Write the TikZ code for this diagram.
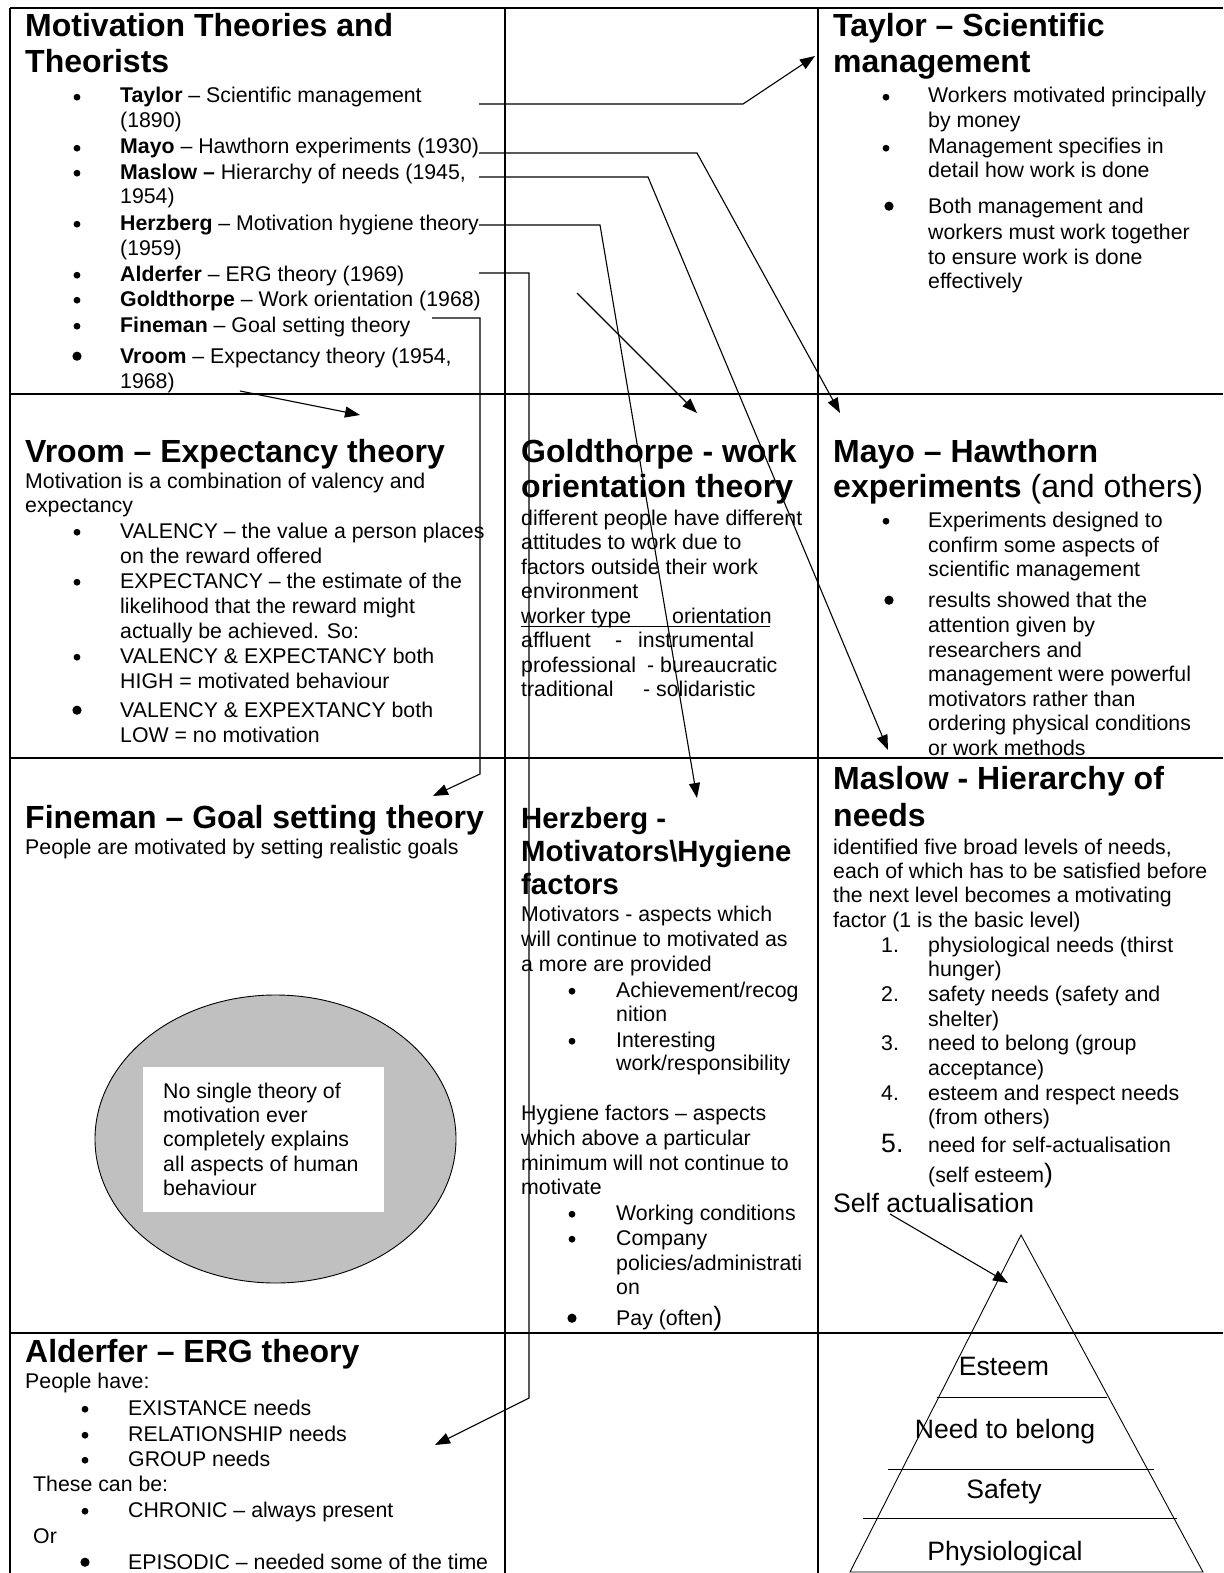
\documentclass[tikz,border=0pt]{standalone}
\usepackage{fontspec}
\setmainfont{Liberation Sans}
\usetikzlibrary{arrows.meta}
\newcommand\fb{\fontsize{21.3}{24.5}\selectfont}
\newcommand\fh{\fontsize{32}{36}\selectfont\bfseries}
\newcommand\fhs{\fontsize{29.3}{33}\selectfont\bfseries}
\newcommand\fl{\fontsize{26.6}{30}\selectfont}
\newcommand\Tx[5][]{\node[tx,#1] (#2) at (#3,#4) {#5};}
\newcommand\Bs[2]{\fill (#1,#2-5.8) circle (3.4pt);}
\newcommand\Bb[2]{\fill (#1,#2-6.8) circle (4.6pt);}
\tikzset{
  tx/.style={inner sep=0pt, anchor=base west, font=\fb},
  hd/.style={tx, font=\fh},
  hds/.style={tx, font=\fhs},
  lg/.style={tx, font=\fl},
  gridl/.style={line width=1.6pt},
  conn/.style={line width=1.1pt},
  arr/.style={conn, -{Triangle[length=15pt,width=11pt]}},
  thinl/.style={line width=0.9pt},
}
\begin{document}
\begin{tikzpicture}[x=1pt,y=-1pt]
\useasboundingbox (0,0) rectangle (1223,1573);
\fill[white] (0,0) rectangle (1223,1573);
% grid
\draw[gridl] (10,8) -- (1223,8);
\draw[gridl] (10,8) -- (10,1573);
\draw[gridl] (505,8) -- (505,1573);
\draw[gridl] (818,8) -- (818,1573);
\draw[gridl] (10,394) -- (1223,394);
\draw[gridl] (10,758) -- (1223,758);
\draw[gridl] (10,1333) -- (1223,1333);

% ---------- top-left list
\Tx[hd]{h1}{25}{37}{Motivation Theories and}
\Tx[hd]{h1b}{25}{73}{Theorists}
\Bs{77}{103}\Tx{l1}{120}{103}{\textbf{Taylor} – Scientific management}
\Tx{l1b}{120}{128}{(1890)}
\Bs{77}{154}\Tx{l2}{120}{154}{\textbf{Mayo} – Hawthorn experiments (1930)}
\Bs{77}{179}\Tx{l3}{120}{179}{\textbf{Maslow –} Hierarchy of needs (1945,}
\Tx{l3b}{120}{204}{1954)}
\Bs{77}{230}\Tx{l4}{120}{230}{\textbf{Herzberg} – Motivation hygiene theory}
\Tx{l4b}{120}{255}{(1959)}
\Bs{77}{281}\Tx{l5}{120}{281}{\textbf{Alderfer} – ERG theory (1969)}
\Bs{77}{306}\Tx{l6}{120}{306}{\textbf{Goldthorpe} – Work orientation (1968)}
\Bs{77}{332}\Tx{l7}{120}{332}{\textbf{Fineman} – Goal setting theory}
\Bb{77}{363}\Tx{l8}{120}{363}{\textbf{Vroom} – Expectancy theory (1954,}
\Tx{l8b}{120}{388}{1968)}

% ---------- Taylor box
\Tx[hd]{tay}{833}{37}{Taylor – Scientific}
\Tx[hd]{tayb}{833}{73}{management}
\Bs{886}{103}\Tx{ta1}{928}{103}{Workers motivated principally}
\Tx{ta1b}{928}{128}{by money}
\Bs{886}{154}\Tx{ta2}{928}{154}{Management specifies in}
\Tx{ta2b}{928}{178}{detail how work is done}
\Bb{889}{213}\Tx{ta3}{928}{213}{Both management and}
\Tx{ta3b}{928}{239}{workers must work together}
\Tx{ta3c}{928}{264}{to ensure work is done}
\Tx{ta3d}{928}{288}{effectively}

% ---------- Vroom box
\Tx[hd]{vro}{25}{462}{Vroom – Expectancy theory}
\Tx{vr0}{25}{488}{Motivation is a combination of valency and}
\Tx{vr0b}{25}{512}{expectancy}
\Bs{77}{538}\Tx{vr1}{120}{538}{VALENCY – the value a person places}
\Tx{vr1b}{120}{563}{on the reward offered}
\Bs{77}{588}\Tx{vr2}{120}{588}{EXPECTANCY – the estimate of the}
\Tx{vr2b}{120}{613}{likelihood that the reward might}
\Tx{vr2c}{120}{638}{actually be achieved. So:}
\Bs{77}{663}\Tx{vr3}{120}{663}{VALENCY \& EXPECTANCY both}
\Tx{vr3b}{120}{688}{HIGH = motivated behaviour}
\Bb{77}{717}\Tx{vr4}{120}{717}{VALENCY \& EXPEXTANCY both}
\Tx{vr4b}{120}{742}{LOW = no motivation}

% ---------- Goldthorpe box
\Tx[hd]{gol}{521}{462}{Goldthorpe - work}
\Tx[hd]{golb}{521}{497}{orientation theory}
\Tx{go1}{521}{525}{different people have different}
\Tx{go2}{521}{549.5}{attitudes to work due to}
\Tx{go3}{521}{574}{factors outside their work}
\Tx{go4}{521}{598.5}{environment}
\Tx{go5a}{521}{623}{worker type}
\Tx{go5b}{672}{623}{orientation}
\draw[thinl] (521,626.5) -- (770,626.5);
\Tx{go6a}{521}{647.5}{affluent}
\Tx{go6b}{615}{647.5}{-}
\Tx{go6c}{638}{647.5}{instrumental}
\Tx{go7a}{521}{672}{professional}
\Tx{go7b}{647}{672}{- bureaucratic}
\Tx{go8a}{521}{696.5}{traditional}
\Tx{go8b}{643}{696.5}{- solidaristic}

% ---------- Mayo box
\Tx[hd]{may}{833}{462}{Mayo – Hawthorn}
\Tx[hd]{mayb}{833}{497}{experiments\mdseries\ (and others)}
\Bs{886}{527}\Tx{ma1}{928}{527}{Experiments designed to}
\Tx{ma1b}{928}{552}{confirm some aspects of}
\Tx{ma1c}{928}{576}{scientific management}
\Bb{889}{607}\Tx{ma2}{928}{607}{results showed that the}
\Tx{ma2b}{928}{632}{attention given by}
\Tx{ma2c}{928}{657}{researchers and}
\Tx{ma2d}{928}{681}{management were powerful}
\Tx{ma2e}{928}{706}{motivators rather than}
\Tx{ma2f}{928}{730}{ordering physical conditions}
\Tx{ma2g}{928}{755}{or work methods}

% ---------- Fineman box
\Tx[hd]{fin}{25}{828}{Fineman – Goal setting theory}
\Tx{fi1}{25}{854}{People are motivated by setting realistic goals}
\draw[thinl, fill={rgb,255:red,192;green,192;blue,192}] (275.5,1139) ellipse [x radius=180.5pt, y radius=144pt];
\fill[white] (143,1067) rectangle (384,1212);
\Tx{el1}{163}{1098}{No single theory of}
\Tx{el2}{163}{1122}{motivation ever}
\Tx{el3}{163}{1146.5}{completely explains}
\Tx{el4}{163}{1171}{all aspects of human}
\Tx{el5}{163}{1195}{behaviour}

% ---------- Herzberg box
\Tx[hds]{her}{521}{828}{Herzberg -}
\Tx[hds]{herb}{521}{861}{Motivators\textbackslash Hygiene}
\Tx[hds]{herc}{521}{894}{factors}
\Tx{he1}{521}{921}{Motivators - aspects which}
\Tx{he2}{521}{946}{will continue to motivated as}
\Tx{he3}{521}{971}{a more are provided}
\Bs{572}{997}\Tx{he4}{616}{997}{Achievement/recog}
\Tx{he4b}{616}{1021}{nition}
\Bs{572}{1047}\Tx{he5}{616}{1047}{Interesting}
\Tx{he5b}{616}{1070}{work/responsibility}
\Tx{he6}{521}{1120}{Hygiene factors – aspects}
\Tx{he7}{521}{1145}{which above a particular}
\Tx{he8}{521}{1170}{minimum will not continue to}
\Tx{he9}{521}{1194}{motivate}
\Bs{572}{1220}\Tx{he10}{616}{1220}{Working conditions}
\Bs{572}{1245}\Tx{he11}{616}{1245}{Company}
\Tx{he11b}{616}{1270}{policies/administrati}
\Tx{he11c}{616}{1294}{on}
\Bb{572}{1325}\Tx{he12}{616}{1325}{Pay (often{\fl)}}

% ---------- Maslow box
\Tx[hd]{mas}{833}{789}{Maslow - Hierarchy of}
\Tx[hd]{masb}{833}{826}{needs}
\Tx{ms1}{833}{854}{identified five broad levels of needs,}
\Tx{ms2}{833}{878}{each of which has to be satisfied before}
\Tx{ms3}{833}{902}{the next level becomes a motivating}
\Tx{ms4}{833}{927}{factor (1 is the basic level)}
\Tx{mn1}{881}{952}{1.}\Tx{mt1}{928}{952}{physiological needs (thirst}
\Tx{mt1b}{928}{976}{hunger)}
\Tx{mn2}{881}{1001}{2.}\Tx{mt2}{928}{1001}{safety needs (safety and}
\Tx{mt2b}{928}{1026}{shelter)}
\Tx{mn3}{881}{1050}{3.}\Tx{mt3}{928}{1050}{need to belong (group}
\Tx{mt3b}{928}{1075}{acceptance)}
\Tx{mn4}{881}{1100}{4.}\Tx{mt4}{928}{1100}{esteem and respect needs}
\Tx{mt4b}{928}{1124}{(from others)}
\Tx[lg]{mn5}{881}{1152}{5.}\Tx{mt5}{928}{1152}{need for self-actualisation}
\Tx{mt5b}{928}{1182}{(self esteem{\fl)}}
\Tx[lg]{selfa}{833}{1212}{Self actualisation}

% pyramid
\coordinate (apex) at (1021,1235);
\draw[thinl] (apex) -- (850,1572) -- (1203,1572) -- cycle;
\draw[thinl] (937,1397) -- (1107,1397);
\draw[thinl] (888,1469) -- (1154,1469);
\draw[thinl] (863,1518) -- (1177,1518);
\node[tx, font=\fl, anchor=base] (p1) at (1004,1375) {Esteem};
\node[tx, font=\fl, anchor=base] (p2) at (1005,1438) {Need to belong};
\node[tx, font=\fl, anchor=base] (p3) at (1004,1498) {Safety};
\node[tx, font=\fl, anchor=base] (p4) at (1005,1560) {Physiological};

% ---------- Alderfer box
\Tx[hd]{ald}{25}{1362}{Alderfer – ERG theory}
\Tx{al0}{25}{1388}{People have:}
\Bs{85}{1415}\Tx{al1}{128}{1415}{EXISTANCE needs}
\Bs{85}{1441}\Tx{al2}{128}{1441}{RELATIONSHIP needs}
\Bs{85}{1466}\Tx{al3}{128}{1466}{GROUP needs}
\Tx{al4}{33}{1491}{These can be:}
\Bs{85}{1517}\Tx{al5}{128}{1517}{CHRONIC – always present}
\Tx{al6}{33}{1543}{Or}
\Bb{85}{1569}\Tx{al7}{128}{1569}{EPISODIC – needed some of the time}

% ---------- connectors
\coordinate (cTa0) at (479,104);   \coordinate (cTa1) at (743,104);  \coordinate (cTa2) at (815,56);
\coordinate (cMa0) at (479,153);   \coordinate (cMa1) at (697,153);  \coordinate (cMa2) at (840,413);
\coordinate (cMs0) at (479,177);   \coordinate (cMs1) at (648,177);  \coordinate (cMs2) at (888,750);
\coordinate (cHe0) at (479,225);   \coordinate (cHe1) at (600,225);  \coordinate (cHe2) at (697,798);
\coordinate (cAl0) at (479,273);   \coordinate (cAl1) at (529,273);  \coordinate (cAl2) at (529,1398); \coordinate (cAl3) at (435,1445);
\coordinate (cGo0) at (577,293);   \coordinate (cGo1) at (697,413);
\coordinate (cFi0) at (432,318);   \coordinate (cFi1) at (480,318);  \coordinate (cFi2) at (480,774); \coordinate (cFi3) at (433,796);
\coordinate (cVr0) at (240,391);   \coordinate (cVr1) at (360,415);
\coordinate (cSa0) at (890,1214);  \coordinate (cSa1) at (1008,1283);
\draw[arr] (cTa0) -- (cTa1) -- (cTa2);
\draw[arr] (cMa0) -- (cMa1) -- (cMa2);
\draw[arr] (cMs0) -- (cMs1) -- (cMs2);
\draw[arr] (cHe0) -- (cHe1) -- (cHe2);
\draw[arr] (cAl0) -- (cAl1) -- (cAl2) -- (cAl3);
\draw[arr] (cGo0) -- (cGo1);
\draw[arr] (cFi0) -- (cFi1) -- (cFi2) -- (cFi3);
\draw[arr] (cVr0) -- (cVr1);
\draw[arr] (cSa0) -- (cSa1);
\end{tikzpicture}
\end{document}
